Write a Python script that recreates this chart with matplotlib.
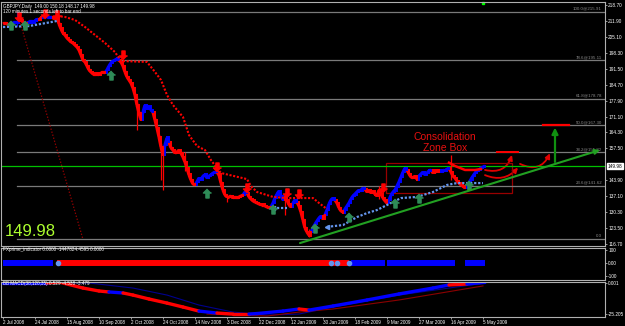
import matplotlib
matplotlib.use('Agg')
import matplotlib.pyplot as plt
from matplotlib.collections import LineCollection
from matplotlib.patches import FancyArrowPatch, Rectangle

# GBPJPY daily closes, one per bar from 2 Jul 2008 (bar 0) to the last bar (149.98)
close = [210.6, 211.0, 210.6, 210.2, 210.6, 211.0, 211.4, 211.0, 211.9, 212.3,
         211.4, 210.6, 211.0, 211.4, 211.9, 211.4, 211.9, 212.7, 212.3, 213.2,
         213.6, 214.0, 213.6, 213.2, 213.6, 213.2, 212.7, 213.6, 210.6, 208.5,
         206.7, 205.9, 204.6, 203.8, 202.9, 202.5, 201.6, 200.8, 199.5, 197.4,
         195.2, 194.4, 192.7, 191.0, 190.1, 189.3, 188.8, 189.3, 188.8, 189.7,
         190.1, 189.7, 191.0, 192.7, 194.0, 194.8, 195.2, 195.7, 195.2, 194.4,
         192.7, 190.1, 188.0, 186.7, 185.4, 183.3, 180.3, 176.0, 172.6, 169.6,
         173.0, 176.0, 174.7, 175.6, 173.9, 173.0, 169.6, 166.2, 162.4, 158.1,
         154.7, 159.0, 162.0, 160.2, 157.7, 156.8, 155.5, 155.9, 156.8, 155.5,
         153.8, 151.7, 149.1, 146.2, 144.0, 142.3, 141.9, 143.2, 144.9, 144.0,
         145.7, 146.2, 144.9, 145.7, 146.2, 147.0, 147.4, 147.4, 146.2, 142.7,
         139.7, 137.6, 136.8, 136.8, 137.2, 136.3, 136.8, 136.3, 136.8, 137.2,
         137.6, 138.9, 138.5, 136.8, 135.9, 135.1, 134.6, 134.2, 133.8, 133.4,
         133.4, 132.9, 132.5, 132.1, 132.5, 134.2, 136.3, 138.0, 139.3, 137.2,
         135.5, 136.8, 135.5, 133.4, 132.5, 134.2, 135.5, 134.6, 132.9, 130.3,
         126.9, 123.5, 121.8, 120.5, 121.8, 123.5, 125.2, 126.5, 127.8, 128.6,
         127.4, 129.1, 131.2, 133.8, 135.5, 136.3, 135.5, 134.2, 132.1, 130.8,
         130.3, 131.6, 132.9, 134.2, 135.9, 137.2, 138.0, 138.9, 139.7, 139.7,
         140.6, 140.2, 138.9, 139.7, 138.5, 139.3, 138.0, 137.2, 139.7, 138.0,
         136.3, 135.1, 134.2, 135.5, 137.6, 138.9, 139.7, 141.4, 143.2, 145.3,
         147.4, 149.1, 148.3, 146.6, 145.3, 144.9, 145.7, 144.4, 145.7, 146.6,
         147.4, 146.2, 147.0, 147.9, 148.3, 147.0, 147.9, 147.4, 148.3, 147.4,
         148.3, 147.9, 148.7, 149.1, 147.4, 145.7, 144.9, 143.6, 142.7, 141.9,
         141.4, 140.6, 141.4, 142.7, 144.4, 145.7, 147.0, 147.9, 148.3, 149.1,
         149.6, 149.98]
# runs of bars painted blue (the rest are red)
blue_runs = [(4, 8), (13, 17), (20, 24), (52, 58), (70, 75), (81, 83), (97, 107),
             (121, 122), (135, 140), (145, 147), (155, 159), (162, 166), (171, 181),
             (193, 202), (208, 214), (219, 223), (232, 241)]
# long wicks
wick_bar = [7, 67, 79, 80, 91, 112, 141, 153, 224, 188]
wick_low = [209.8, 165.4, 144.0, 139.7, 148.0, 134.6, 129.1, 119.7, 144.0, 136.0]
wick_high = [215.9, 180.0, 160.0, 158.0, 156.0, 138.0, 137.5, 123.0, 154.5, 141.5]

# trailing stops
res_x = [27, 31, 36, 41, 46, 51, 56, 59, 72, 76, 79, 82, 85, 90, 93, 97, 101, 104, 107,
         109, 122, 124, 127, 135, 142, 155, 158, 162]
res_y = [214.0, 213.6, 212.3, 209.3, 205.9, 202.5, 198.6, 194.8, 194.4, 190.1, 186.7,
         180.3, 176.0, 170.9, 163.2, 158.5, 156.8, 152.5, 149.1, 147.0, 144.4, 141.4,
         138.9, 136.8, 136.3, 136.3, 134.2, 131.6]
res2_x = [223, 226, 231, 236, 239]
res2_y = [151.4, 150.0, 148.3, 148.3, 148.7]
sup1_x = [0, 13, 24, 27]
sup1_y = [209.3, 209.7, 211.4, 211.9]
sup2_x = [135, 142]
sup2_y = [132.1, 132.1]
sup3_x = [162, 170, 177, 182, 187, 194, 199, 207, 215, 222, 227, 232, 240]
sup3_y = [124.0, 124.8, 128.2, 129.9, 131.2, 134.2, 136.3, 136.8, 138.9, 141.9, 142.7,
          142.7, 142.7]

sell_x = [8, 21, 27, 60, 107, 122, 142, 148, 190]
sell_y = [213.6, 214.9, 214.4, 197.4, 149.6, 140.6, 138.5, 138.0, 140.6]
buy_x = [4, 11, 54, 102, 135, 156, 173, 196, 208, 233]
buy_y = [210.2, 210.2, 188.8, 138.5, 131.6, 123.5, 128.2, 134.2, 136.3, 141.9]

fib_levels = [215.91, 195.11, 178.78, 167.30, 155.82, 141.62, 118.69]
fib_labels = ['100.0@215.91', '78.6@195.11', '61.8@178.78', '50.0@167.30',
              '38.2@155.82', '23.6@141.62', '0.0']
price_ticks = [218.70, 211.90, 205.10, 198.30, 191.50, 184.70, 177.90, 171.10, 164.30,
               157.50, 143.90, 137.10, 130.30, 123.50, 116.70]
last_price = 149.98

# FXprime indicator strip
fx_start = [0, 27, 174, 192, 231]
fx_end = [25, 173, 191, 226, 241]
fx_col = ['#0000FF', '#FF0000', '#0000FF', '#0000FF', '#0000FF']
fx_dots = [27.5, 164, 167, 173]

# BB MACD
macd_x = [0, 22, 28, 40, 48, 53, 60, 65, 73, 82, 90, 98, 107, 115, 123, 127, 140, 148,
          153, 165, 182, 198, 215, 223, 232, 241]
macd_v = [0.0, 0.0, 0.8, -4.1, -6.5, -7.3, -8.1, -9.8, -13.0, -16.3, -19.5, -22.8, -24.4,
          -25.2, -25.2, -24.8, -22.8, -21.1, -22.0, -18.7, -13.8, -8.9, -4.1, -1.6, -0.8, 0.5]
macd_seg = ['b', 'r', 'r', 'r', 'r', 'b', 'r', 'r', 'r', 'r', 'r', 'b', 'r', 'r', 'b', 'b',
            'b', 'r', 'b', 'b', 'b', 'b', 'b', 'r', 'b']
sig_x = [0, 43, 65, 82, 98, 115, 132, 148, 165, 198, 241]
sig_v = [0.8, 0.0, -4.1, -9.8, -17.9, -23.6, -26.0, -25.2, -19.5, -9.8, 0.0]
dr_x = [102, 132, 148, 165, 198, 240]
dr_v = [-25.2, -26.8, -23.6, -21.1, -13.8, -2.4]

date_labels = ['2 Jul 2008', '24 Jul 2008', '15 Aug 2008', '10 Sep 2008', '2 Oct 2008',
               '24 Oct 2008', '14 Nov 2008', '3 Dec 2008', '22 Dec 2008', '12 Jan 2009',
               '30 Jan 2009', '18 Feb 2009', '9 Mar 2009', '27 Mar 2009', '16 Apr 2009',
               '5 May 2009']

RED, BLUE, LBLUE = '#FF0000', '#0000FF', '#6495ED'
SMALL = 'Liberation Sans'
W, H = 625, 326
fig = plt.figure(figsize=(W / 100, H / 100), dpi=100, facecolor='black')


def px_axes(x0, y0, x1, y1):
    a = fig.add_axes([x0 / W, 1 - y1 / H, (x1 - x0) / W, (y1 - y0) / H], facecolor='black')
    for s in a.spines.values():
        s.set_color('#B0B0B0')
        s.set_linewidth(0.8)
    a.set_xlim(-1, 301)
    a.yaxis.tick_right()
    a.tick_params(axis='y', colors='#B0B0B0', labelcolor='white', labelsize=3.4,
                  length=1.5, width=0.6, pad=0.8)
    a.tick_params(axis='x', bottom=False, labelbottom=False)
    return a


def small_font(a):
    for t in a.get_yticklabels() + a.get_xticklabels():
        t.set_family(SMALL)


ax = px_axes(1, 2, 605, 246)
ax.set_ylim(115.85, 219.98)
ax.set_yticks(price_ticks)
ax.set_yticklabels(['%.2f' % v for v in price_ticks])
small_font(ax)

# fibonacci
for lv, lb in zip(fib_levels, fib_labels):
    ax.plot([7, 301], [lv, lv], color='#7A7A7A', lw=0.9)
    ax.text(299.5, lv + 0.4, lb, color='#8A8A8A', fontsize=3.2, ha='right', va='bottom',
            family=SMALL)
ax.plot([7, 40], [fib_levels[0], fib_levels[-1]], color='#A00000', lw=0.9, ls=(0, (1, 1.5)))

ax.axhline(last_price, color='#00C000', lw=0.9)

# price bars
n = len(close)
cols = [RED] * n
for a_, b_ in blue_runs:
    for i in range(a_, b_ + 1):
        cols[i] = BLUE
segs = [[(i - 1, close[i - 1]), (i, close[i])] for i in range(1, n)]
ax.add_collection(LineCollection(segs, colors=cols[1:], linewidths=2.3))
for i in range(1, n):
    ax.vlines(i, min(close[i - 1], close[i]) - 0.6, max(close[i - 1], close[i]) + 0.6,
              color=cols[i], lw=1.4)
for b, lo, hi in zip(wick_bar, wick_low, wick_high):
    ax.vlines(b, lo, hi, color=cols[b], lw=0.9)

# trailing stops
ax.plot(res_x, res_y, color=RED, lw=1.5, ls=(0, (1, 0.8)))
ax.plot(res2_x, res2_y, color=RED, lw=1.8)
for xs, ys in [(sup1_x, sup1_y), (sup2_x, sup2_y), (sup3_x, sup3_y)]:
    ax.plot(xs, ys, color=LBLUE, lw=1.6, ls=(0, (1, 0.8)))
ax.plot([sup2_x[0], sup3_x[0]], [sup2_y[0], sup3_y[0]], ls='none', marker='<',
        color=LBLUE, ms=3)

up = [(0, 1), (-0.9, 0.1), (-0.35, 0.1), (-0.35, -1), (0.35, -1), (0.35, 0.1), (0.9, 0.1)]
down = [(x, -y) for x, y in up]
ax.plot(sell_x, sell_y, ls='none', marker=down, ms=6.5, color=RED)
ax.plot(buy_x, buy_y, ls='none', marker=up, ms=6.5, color='#2E8B57')

# drawings
ax.annotate('', xy=(298.5, 156.8), xytext=(148.5, 117.1),
            arrowprops=dict(arrowstyle='-|>', color='#22A022', lw=1.5,
                            mutation_scale=7, shrinkA=0, shrinkB=0))
ax.annotate('', xy=(276, 166.4), xytext=(276, 151.7),
            arrowprops=dict(arrowstyle='-|>', color='#109010', lw=1.6,
                            mutation_scale=9, shrinkA=0, shrinkB=0))
ax.plot([270, 283], [167.3, 167.3], color=RED, lw=1.6)
ax.plot([247, 257.5], [155.82, 155.82], color=RED, lw=1.4)
for (xa, ya), (xb, yb), rad in [((241, 148.3), (254.5, 154.7), 0.45),
                                 ((241, 146.1), (257.5, 149.3), 0.35),
                                 ((258.5, 150.9), (273.5, 155.4), 0.5)]:
    ax.add_patch(FancyArrowPatch((xa, ya), (xb, yb), connectionstyle='arc3,rad=%s' % rad,
                                 arrowstyle='-|>', mutation_scale=7, color='#E00000',
                                 lw=1.3, shrinkA=0, shrinkB=0))
ax.add_patch(Rectangle((191.5, 138.5), 63, 12.8, fill=False, ec='#990000', lw=0.9))
ax.text(221, 162.4, 'Consolidation', color='#E81010', fontsize=7.5, ha='center',
        va='center', family='Liberation Sans')
ax.text(221, 157.7, 'Zone Box', color='#E81010', fontsize=7.5, ha='center',
        va='center', family='Liberation Sans')

ax.text(1, 122.0, '149.98', color='#ADFF2F', fontsize=12, family='Liberation Sans',
        va='center', ha='left')
ax.text(0.0, 219.3, 'GBPJPY,Daily  149.00 150.18 148.17 149.98', color='white',
        fontsize=3.3, va='top', family=SMALL)
ax.text(0.0, 216.9, '120 minutes 1 seconds left to bar end', color='white',
        fontsize=3.3, va='top', family=SMALL)
ax.plot([240], [219.6], ls='none', marker='s', ms=2, color='#00FF00', clip_on=False)
ax.text(1.004, last_price, '149.98', transform=ax.get_yaxis_transform(), fontsize=3.4,
        color='black', va='center', ha='left', family=SMALL,
        bbox=dict(boxstyle='square,pad=0.15', fc='white', ec='white'))

# FXprime panel
ax1 = px_axes(1, 248, 605, 280)
ax1.set_ylim(-131, 115)
ax1.set_yticks([100, 0, -100])
ax1.set_yticklabels(['100', '0.00', '-100'])
small_font(ax1)
for s, e, c in zip(fx_start, fx_end, fx_col):
    ax1.plot([s, e], [0, 0], color=c, lw=4.3, solid_capstyle='butt')
ax1.plot(fx_dots, [0] * len(fx_dots), ls='none', marker='o', ms=3, color=LBLUE)
ax1.text(0.0, 100, 'FXprime_indicator 0.0000 -1447824.4595 0.0000', color='white',
         fontsize=3.3, va='center', family=SMALL)

# MACD panel
ax2 = px_axes(1, 282, 605, 317)
ax2.set_ylim(-27.6, 0.8)
ax2.set_yticks([0.001, -25.205])
ax2.set_yticklabels(['0.001', '-25.205'])
ax2.plot(sig_x, sig_v, color='#000090', lw=0.8)
ax2.plot(dr_x, dr_v, color='#8B0000', lw=0.8)
msegs = [[(macd_x[k], macd_v[k]), (macd_x[k + 1], macd_v[k + 1])] for k in range(len(macd_seg))]
ax2.add_collection(LineCollection(msegs, colors=[RED if c == 'r' else BLUE for c in macd_seg],
                                  linewidths=2.4, capstyle='round'))
ax2.text(0.0, -0.8, 'BB MACD(38,120,35) 0.529 -4.538 -3.479', color='white',
         fontsize=3.3, va='center', family=SMALL)
ax2.set_xticks(range(0, 16 * len(date_labels), 16))
ax2.set_xticklabels(date_labels)
ax2.tick_params(axis='x', bottom=True, labelbottom=True, colors='#B0B0B0',
                labelcolor='white', labelsize=3.3, length=1.5, width=0.6, pad=1)
small_font(ax2)
for t in ax2.get_xticklabels():
    t.set_ha('left')

fig.savefig('out.png', dpi=100, facecolor='black')
